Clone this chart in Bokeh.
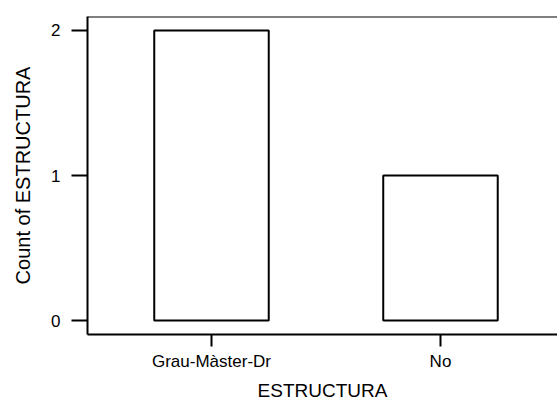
from bokeh.plotting import figure
from bokeh.models import Range1d, FixedTicker, Span, ColumnDataSource
from bokeh.embed import file_html
from bokeh.resources import INLINE

categories = ["Grau-Màster-Dr", "No"]
counts = [2, 1]
y_ticks = [0, 1, 2]

xpos = list(range(len(categories)))
src = ColumnDataSource(data=dict(x=xpos, top=counts, cat=categories))

p = figure(width=557, height=403, output_backend="svg", toolbar_location=None,
           x_range=Range1d(-0.5415, 1.511), y_range=Range1d(-0.096, 2.096),
           min_border_left=87, min_border_right=0, min_border_top=16, min_border_bottom=67)

p.vbar(x="x", top="top", bottom=0, width=0.5, source=src,
       fill_color="white", line_color="black", line_width=2)

p.outline_line_color = None
p.grid.visible = False
p.background_fill_color = "white"
p.border_fill_color = "white"

p.add_layout(Span(location=2.096, dimension="width", line_color="black", line_width=2))

FONT = "Liberation Sans"

p.xaxis.ticker = FixedTicker(ticks=xpos)
p.xaxis.major_label_overrides = {i: c for i, c in zip(xpos, categories)}
p.yaxis.ticker = FixedTicker(ticks=y_ticks)

for ax in (p.xaxis, p.yaxis):
    ax.axis_line_width = 2
    ax.axis_line_color = "black"
    ax.major_tick_line_width = 2
    ax.major_tick_line_color = "black"
    ax.minor_tick_line_color = None
    ax.major_tick_in = 0
    ax.major_label_text_font = FONT
    ax.major_label_text_color = "black"
    ax.major_label_text_font_size = "17px"
    ax.axis_label_text_font = FONT
    ax.axis_label_text_font_style = "normal"
    ax.axis_label_text_color = "black"

p.xaxis.axis_label_text_font_size = "19px"
p.yaxis.axis_label_text_font_size = "20px"
p.xaxis.major_tick_out = 12
p.yaxis.major_tick_out = 16
p.xaxis.major_label_standoff = 5
p.yaxis.major_label_standoff = 11
p.xaxis.axis_label = "ESTRUCTURA"
p.yaxis.axis_label = "Count of ESTRUCTURA"
p.xaxis.axis_label_standoff = 6
p.yaxis.axis_label_standoff = 14

open("out.html", "w").write(file_html(p, INLINE))
